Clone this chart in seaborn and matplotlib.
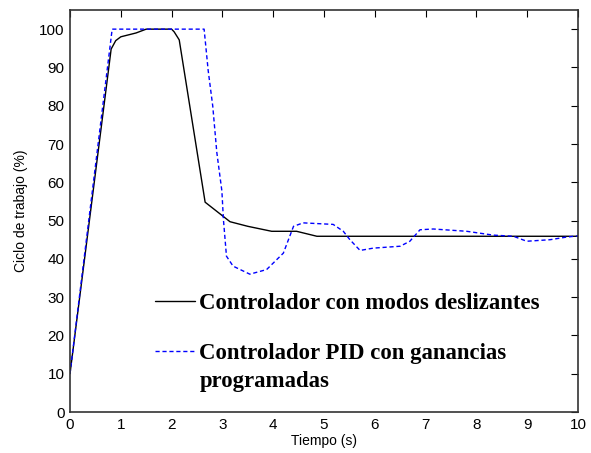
import numpy as np
import pandas as pd
import matplotlib
matplotlib.use("Agg")
import matplotlib.pyplot as plt
import seaborn as sns

# Data
t_smc = [0, 0.81, 0.9, 1.0, 1.3, 1.5, 2.0, 2.05, 2.15, 2.66, 3.15, 3.5, 3.97, 4.46, 4.86, 10]
y_smc = [10, 94.8, 97, 98, 99, 100, 100, 99.3, 97.2, 54.8, 49.7, 48.5, 47.2, 47.2, 45.9, 45.9]

t_pid = [0, 0.83, 2.64, 2.72, 2.81, 2.89, 2.99, 3.02, 3.08, 3.21, 3.54, 3.87, 4.2, 4.4,
         4.59, 5.18, 5.38, 5.51, 5.71, 5.97, 6.5, 6.69, 6.89, 7.15, 7.81, 8.33, 8.73,
         8.99, 9.45, 9.78, 10]
y_pid = [10, 100, 100, 89.2, 79.9, 67.8, 57.7, 50.3, 40.7, 38.1, 36.0, 37.2, 41.5, 48.5,
         49.4, 49.0, 47.2, 45.0, 42.2, 42.8, 43.3, 44.6, 47.6, 47.8, 47.2, 46.2, 45.9,
         44.6, 45.0, 45.7, 46.0]

label_smc = "Controlador con modos deslizantes"
label_pid = "Controlador PID con ganancias"
label_pid2 = "programadas"

sns.set_style("white")
plt.rcParams["font.family"] = ["Liberation Sans", "DejaVu Sans"]
plt.rcParams["text.color"] = "black"
plt.rcParams["axes.labelcolor"] = "black"
plt.rcParams["xtick.color"] = "black"
plt.rcParams["ytick.color"] = "black"

fig = plt.figure(figsize=(5.91, 4.53), dpi=100)
ax = fig.add_axes([70 / 591, 1 - 412 / 453, 508 / 591, 402 / 453])

sns.lineplot(x=t_smc, y=y_smc, ax=ax, color="black", linewidth=1.0, label=label_smc)
sns.lineplot(x=t_pid, y=y_pid, ax=ax, color="#0000ff", linewidth=1.0,
             linestyle=(0, (3, 2)), label=label_pid)

ax.set_xlim(0, 10)
ax.set_ylim(0, 105)
ax.set_xticks(range(0, 11))
ax.set_yticks(range(0, 101, 10))
ax.tick_params(direction="in", length=5, top=True, right=True, labelsize=11, pad=4)
for s in ax.spines.values():
    s.set_color("#333333")
    s.set_linewidth(1.2)

ax.set_xlabel("Tiempo (s)", fontsize=10, labelpad=2)
ax.set_ylabel("Ciclo de trabajo (%)", fontsize=10, labelpad=8)

legend_font = {"family": "Liberation Serif", "weight": "bold", "size": 16.4}
leg = ax.legend(loc="upper left", bbox_to_anchor=(0.127, 0.348), frameon=False,
                prop=legend_font, handlelength=1.75, handletextpad=0.2,
                labelspacing=1.29)

# second line of the PID label, aligned with the legend text
fig.canvas.draw()
bb = leg.get_texts()[1].get_window_extent()
fig.text(bb.x0, bb.y0 + bb.height / 2 - 28, label_pid2, fontdict=legend_font,
         va="center", ha="left", transform=None)

fig.savefig("out.png", dpi=100)
